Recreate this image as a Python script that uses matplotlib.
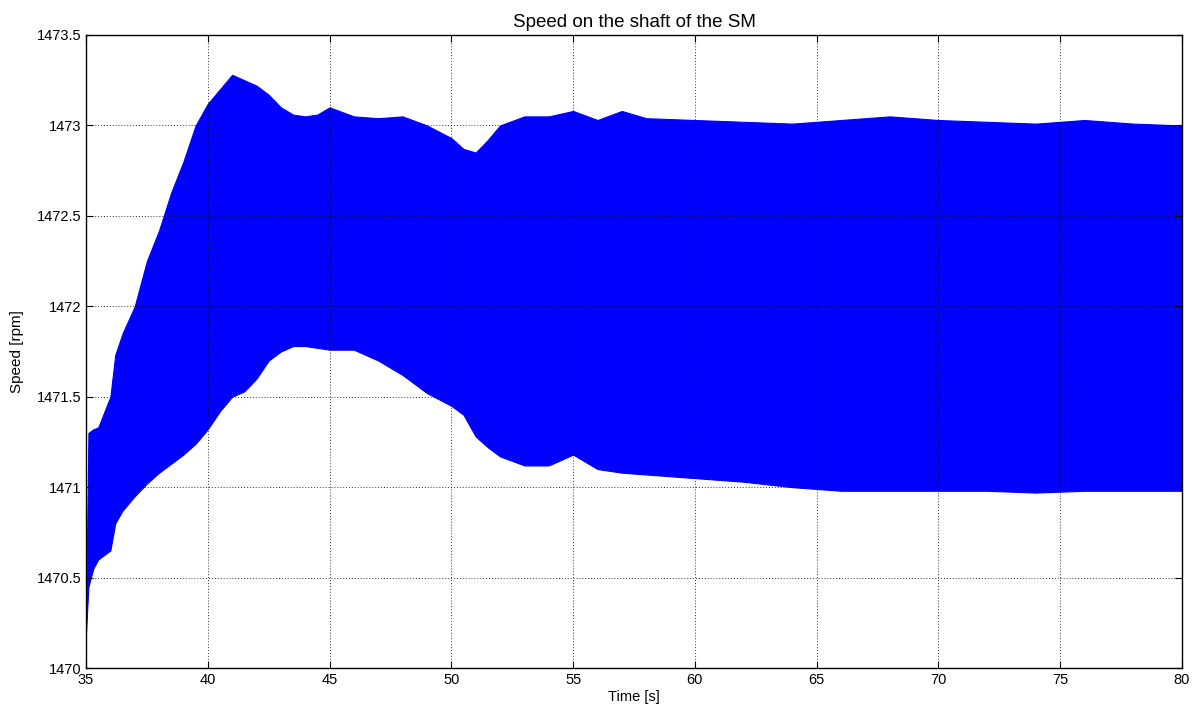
import matplotlib
matplotlib.use("Agg")
import matplotlib.pyplot as plt

# Envelope of the oscillating speed signal
time_s = [35.0, 35.1, 35.3, 35.5, 36.0, 36.2, 36.5, 37.0, 37.5, 38.0, 38.5, 39.0, 39.5,
          40.0, 40.5, 41.0, 41.5, 42.0, 42.5, 43.0, 43.5, 44.0, 44.5, 45.0, 46.0,
          47.0, 48.0, 49.0, 50.0, 50.5, 51.0, 51.5, 52.0, 53.0, 54.0, 55.0, 56.0,
          57.0, 58.0, 60.0, 62.0, 64.0, 66.0, 68.0, 70.0, 72.0, 74.0, 76.0, 78.0, 80.0]
speed_upper = [1470.25, 1471.30, 1471.32, 1471.33, 1471.50, 1471.73, 1471.85, 1472.00,
               1472.25, 1472.42, 1472.63, 1472.80, 1473.00, 1473.12, 1473.20, 1473.28,
               1473.25, 1473.22, 1473.17, 1473.10, 1473.06, 1473.05, 1473.06, 1473.10,
               1473.05, 1473.04, 1473.05, 1473.00, 1472.93, 1472.87, 1472.85, 1472.92,
               1473.00, 1473.05, 1473.05, 1473.08, 1473.03, 1473.08, 1473.04, 1473.03,
               1473.02, 1473.01, 1473.03, 1473.05, 1473.03, 1473.02, 1473.01, 1473.03,
               1473.01, 1473.00]
speed_lower = [1470.20, 1470.45, 1470.55, 1470.60, 1470.65, 1470.80, 1470.87, 1470.95,
               1471.02, 1471.08, 1471.13, 1471.18, 1471.24, 1471.32, 1471.42, 1471.50,
               1471.53, 1471.60, 1471.70, 1471.75, 1471.78, 1471.78, 1471.77, 1471.76,
               1471.76, 1471.70, 1471.62, 1471.52, 1471.45, 1471.40, 1471.28, 1471.22,
               1471.17, 1471.12, 1471.12, 1471.18, 1471.10, 1471.08, 1471.07, 1471.05,
               1471.03, 1471.00, 1470.98, 1470.98, 1470.98, 1470.98, 1470.97, 1470.98,
               1470.98, 1470.98]

xticks = [35, 40, 45, 50, 55, 60, 65, 70, 75, 80]
yticks = [1470, 1470.5, 1471, 1471.5, 1472, 1472.5, 1473, 1473.5]
ytick_labels = ['1470', '1470.5', '1471', '1471.5', '1472', '1472.5', '1473', '1473.5']

plt.rcParams['font.family'] = ['Liberation Sans', 'DejaVu Sans']

fig = plt.figure(figsize=(12.02, 7.13), dpi=100)
ax = fig.add_axes([86/1202, 1 - 668/713, (1182-86)/1202, (668-35)/713])

ax.fill_between(time_s, speed_lower, speed_upper, color='#0000ff', linewidth=0.8,
                edgecolor='#0000ff', zorder=2)

ax.set_xlim(35, 80)
ax.set_ylim(1470, 1473.5)
ax.set_xticks(xticks)
ax.set_yticks(yticks)
ax.set_xticklabels([str(v) for v in xticks])
ax.set_yticklabels(ytick_labels)
ax.tick_params(direction='in', length=5, labelsize=10.5, top=True, right=True, width=0.8)
ax.grid(True, color='black', alpha=0.8, linestyle=(0, (1, 2)), linewidth=0.7, zorder=4)
ax.set_axisbelow(False)
for s in ax.spines.values():
    s.set_linewidth(1.0)
    s.set_zorder(5)

ax.set_title('Speed on the shaft of the SM', fontsize=13.5, pad=6)
ax.set_xlabel('Time [s]', fontsize=10.5, labelpad=2)
ax.set_ylabel('Speed [rpm]', fontsize=11, labelpad=9)

fig.savefig('out.png', dpi=100)
